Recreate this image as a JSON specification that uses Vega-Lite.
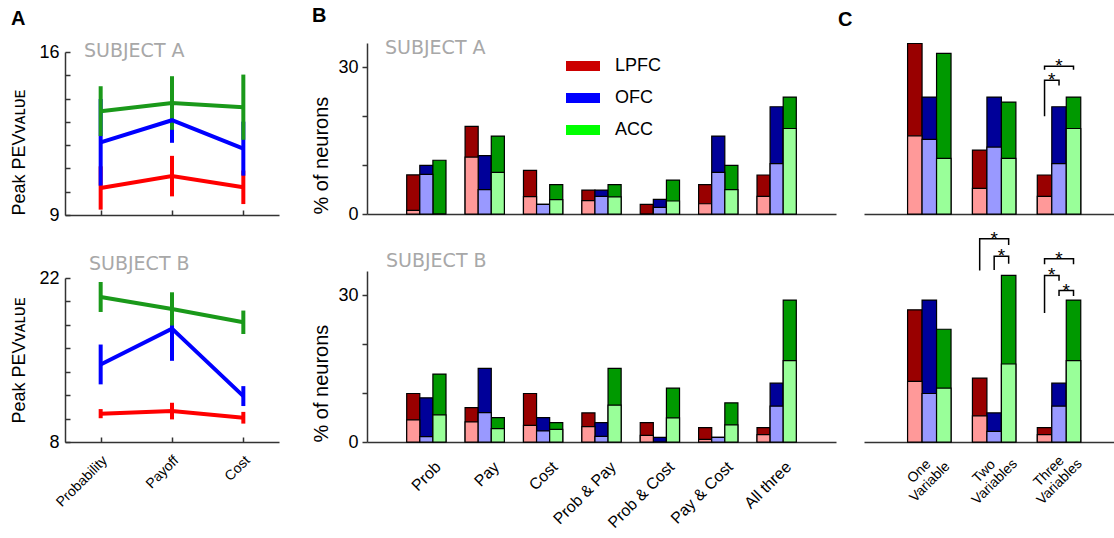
{
  "$schema": "https://vega.github.io/schema/vega-lite/v6.json",
  "padding": {"left": 10, "top": 6, "right": 0, "bottom": 0},
  "config": {
    "view": {"stroke": null},
    "font": "Liberation Sans",
    "axis": {"domainColor": "#333333", "domainWidth": 1.5, "tickColor": "#333333", "tickWidth": 1.5, "labelColor": "black", "titleColor": "black", "titleFontWeight": "normal", "grid": false, "labelFont": "Liberation Sans", "titleFont": "Liberation Sans, DejaVu Sans"},
    "title": {"font": "Liberation Sans"}
  },
  "datasets": {
    "pev": [
      {"subject": "A", "area": "LPFC", "variable": "Probability", "mean": 10.16, "lo": 9.23, "hi": 11.09},
      {"subject": "A", "area": "LPFC", "variable": "Payoff", "mean": 10.67, "lo": 9.8, "hi": 11.54},
      {"subject": "A", "area": "LPFC", "variable": "Cost", "mean": 10.19, "lo": 9.47, "hi": 10.91},
      {"subject": "A", "area": "OFC", "variable": "Probability", "mean": 12.12, "lo": 10.26, "hi": 13.98},
      {"subject": "A", "area": "OFC", "variable": "Payoff", "mean": 13.07, "lo": 12.1, "hi": 14.04},
      {"subject": "A", "area": "OFC", "variable": "Cost", "mean": 11.85, "lo": 10.69, "hi": 13.01},
      {"subject": "A", "area": "ACC", "variable": "Probability", "mean": 13.46, "lo": 12.39, "hi": 14.53},
      {"subject": "A", "area": "ACC", "variable": "Payoff", "mean": 13.81, "lo": 12.66, "hi": 14.96},
      {"subject": "A", "area": "ACC", "variable": "Cost", "mean": 13.63, "lo": 12.23, "hi": 15.03},
      {"subject": "B", "area": "LPFC", "variable": "Probability", "mean": 10.42, "lo": 10.03, "hi": 10.81},
      {"subject": "B", "area": "LPFC", "variable": "Payoff", "mean": 10.64, "lo": 9.93, "hi": 11.35},
      {"subject": "B", "area": "LPFC", "variable": "Cost", "mean": 10.07, "lo": 9.57, "hi": 10.57},
      {"subject": "B", "area": "OFC", "variable": "Probability", "mean": 14.62, "lo": 12.92, "hi": 16.32},
      {"subject": "B", "area": "OFC", "variable": "Payoff", "mean": 17.68, "lo": 14.93, "hi": 20.43},
      {"subject": "B", "area": "OFC", "variable": "Cost", "mean": 11.92, "lo": 11.07, "hi": 12.77},
      {"subject": "B", "area": "ACC", "variable": "Probability", "mean": 20.38, "lo": 19.1, "hi": 21.66},
      {"subject": "B", "area": "ACC", "variable": "Payoff", "mean": 19.36, "lo": 17.94, "hi": 20.78},
      {"subject": "B", "area": "ACC", "variable": "Cost", "mean": 18.22, "lo": 17.22, "hi": 19.22}
    ],
    "bars": [
      {"panel": "B", "subject": "A", "group": "Prob", "area": "LPFC", "light": 0.75, "total": 8.0},
      {"panel": "B", "subject": "A", "group": "Prob", "area": "OFC", "light": 8.1, "total": 9.95},
      {"panel": "B", "subject": "A", "group": "Prob", "area": "ACC", "light": 0, "total": 11.0},
      {"panel": "B", "subject": "A", "group": "Pay", "area": "LPFC", "light": 11.66, "total": 17.93},
      {"panel": "B", "subject": "A", "group": "Pay", "area": "OFC", "light": 4.98, "total": 11.93},
      {"panel": "B", "subject": "A", "group": "Pay", "area": "ACC", "light": 8.52, "total": 15.95},
      {"panel": "B", "subject": "A", "group": "Cost", "area": "LPFC", "light": 3.54, "total": 8.93},
      {"panel": "B", "subject": "A", "group": "Cost", "area": "OFC", "light": 1.98, "total": 1.98},
      {"panel": "B", "subject": "A", "group": "Cost", "area": "ACC", "light": 2.93, "total": 6.0},
      {"panel": "B", "subject": "A", "group": "Prob & Pay", "area": "LPFC", "light": 2.73, "total": 4.9},
      {"panel": "B", "subject": "A", "group": "Prob & Pay", "area": "OFC", "light": 3.6, "total": 4.9},
      {"panel": "B", "subject": "A", "group": "Prob & Pay", "area": "ACC", "light": 3.5, "total": 6.0},
      {"panel": "B", "subject": "A", "group": "Prob & Cost", "area": "LPFC", "light": 0, "total": 1.98},
      {"panel": "B", "subject": "A", "group": "Prob & Cost", "area": "OFC", "light": 1.36, "total": 3.0},
      {"panel": "B", "subject": "A", "group": "Prob & Cost", "area": "ACC", "light": 2.66, "total": 6.95},
      {"panel": "B", "subject": "A", "group": "Pay & Cost", "area": "LPFC", "light": 2.1, "total": 6.0},
      {"panel": "B", "subject": "A", "group": "Pay & Cost", "area": "OFC", "light": 8.52, "total": 15.95},
      {"panel": "B", "subject": "A", "group": "Pay & Cost", "area": "ACC", "light": 4.98, "total": 9.95},
      {"panel": "B", "subject": "A", "group": "All three", "area": "LPFC", "light": 3.6, "total": 7.98},
      {"panel": "B", "subject": "A", "group": "All three", "area": "OFC", "light": 10.3, "total": 21.95},
      {"panel": "B", "subject": "A", "group": "All three", "area": "ACC", "light": 17.5, "total": 23.93},
      {"panel": "B", "subject": "B", "group": "Prob", "area": "LPFC", "light": 4.52, "total": 9.93},
      {"panel": "B", "subject": "B", "group": "Prob", "area": "OFC", "light": 1.1, "total": 9.04},
      {"panel": "B", "subject": "B", "group": "Prob", "area": "ACC", "light": 5.55, "total": 13.9},
      {"panel": "B", "subject": "B", "group": "Pay", "area": "LPFC", "light": 4.1, "total": 7.05},
      {"panel": "B", "subject": "B", "group": "Pay", "area": "OFC", "light": 6.03, "total": 15.07},
      {"panel": "B", "subject": "B", "group": "Pay", "area": "ACC", "light": 2.74, "total": 5.0},
      {"panel": "B", "subject": "B", "group": "Cost", "area": "LPFC", "light": 3.42, "total": 9.93},
      {"panel": "B", "subject": "B", "group": "Cost", "area": "OFC", "light": 2.26, "total": 5.0},
      {"panel": "B", "subject": "B", "group": "Cost", "area": "ACC", "light": 2.6, "total": 3.97},
      {"panel": "B", "subject": "B", "group": "Prob & Pay", "area": "LPFC", "light": 3.15, "total": 5.96},
      {"panel": "B", "subject": "B", "group": "Prob & Pay", "area": "OFC", "light": 1.16, "total": 3.97},
      {"panel": "B", "subject": "B", "group": "Prob & Pay", "area": "ACC", "light": 7.53, "total": 15.07},
      {"panel": "B", "subject": "B", "group": "Prob & Cost", "area": "LPFC", "light": 1.37, "total": 3.97},
      {"panel": "B", "subject": "B", "group": "Prob & Cost", "area": "OFC", "light": 0, "total": 0.96},
      {"panel": "B", "subject": "B", "group": "Prob & Cost", "area": "ACC", "light": 4.93, "total": 11.03},
      {"panel": "B", "subject": "B", "group": "Pay & Cost", "area": "LPFC", "light": 0.55, "total": 2.95},
      {"panel": "B", "subject": "B", "group": "Pay & Cost", "area": "OFC", "light": 0.96, "total": 0.96},
      {"panel": "B", "subject": "B", "group": "Pay & Cost", "area": "ACC", "light": 3.49, "total": 8.01},
      {"panel": "B", "subject": "B", "group": "All three", "area": "LPFC", "light": 1.5, "total": 2.95},
      {"panel": "B", "subject": "B", "group": "All three", "area": "OFC", "light": 7.33, "total": 12.05},
      {"panel": "B", "subject": "B", "group": "All three", "area": "ACC", "light": 16.64, "total": 29.04},
      {"panel": "C", "subject": "A", "group": "One Variable", "area": "LPFC", "light": 16.0, "total": 34.9},
      {"panel": "C", "subject": "A", "group": "One Variable", "area": "OFC", "light": 15.27, "total": 23.93},
      {"panel": "C", "subject": "A", "group": "One Variable", "area": "ACC", "light": 11.38, "total": 32.86},
      {"panel": "C", "subject": "A", "group": "Two Variables", "area": "LPFC", "light": 5.25, "total": 13.09},
      {"panel": "C", "subject": "A", "group": "Two Variables", "area": "OFC", "light": 13.7, "total": 23.93},
      {"panel": "C", "subject": "A", "group": "Two Variables", "area": "ACC", "light": 11.38, "total": 22.9},
      {"panel": "C", "subject": "A", "group": "Three Variables", "area": "LPFC", "light": 3.6, "total": 7.98},
      {"panel": "C", "subject": "A", "group": "Three Variables", "area": "OFC", "light": 10.3, "total": 21.95},
      {"panel": "C", "subject": "A", "group": "Three Variables", "area": "ACC", "light": 17.5, "total": 23.93},
      {"panel": "C", "subject": "B", "group": "One Variable", "area": "LPFC", "light": 12.4, "total": 27.05},
      {"panel": "C", "subject": "B", "group": "One Variable", "area": "OFC", "light": 9.93, "total": 29.04},
      {"panel": "C", "subject": "B", "group": "One Variable", "area": "ACC", "light": 11.03, "total": 23.08},
      {"panel": "C", "subject": "B", "group": "Two Variables", "area": "LPFC", "light": 5.34, "total": 13.08},
      {"panel": "C", "subject": "B", "group": "Two Variables", "area": "OFC", "light": 2.19, "total": 5.96},
      {"panel": "C", "subject": "B", "group": "Two Variables", "area": "ACC", "light": 15.96, "total": 34.1},
      {"panel": "C", "subject": "B", "group": "Three Variables", "area": "LPFC", "light": 1.5, "total": 2.95},
      {"panel": "C", "subject": "B", "group": "Three Variables", "area": "OFC", "light": 7.33, "total": 12.05},
      {"panel": "C", "subject": "B", "group": "Three Variables", "area": "ACC", "light": 16.64, "total": 29.04}
    ],
    "brackets": [
      {"subject": "A", "bracket": "a1", "seq": 1, "group": "Three Variables", "area": "LPFC", "y": 29.5},
      {"subject": "A", "bracket": "a1", "seq": 2, "group": "Three Variables", "area": "LPFC", "y": 30.23},
      {"subject": "A", "bracket": "a1", "seq": 3, "group": "Three Variables", "area": "ACC", "y": 30.23},
      {"subject": "A", "bracket": "a1", "seq": 4, "group": "Three Variables", "area": "ACC", "y": 29.5},
      {"subject": "A", "bracket": "a2", "seq": 1, "group": "Three Variables", "area": "LPFC", "y": 20.0},
      {"subject": "A", "bracket": "a2", "seq": 2, "group": "Three Variables", "area": "LPFC", "y": 27.36},
      {"subject": "A", "bracket": "a2", "seq": 3, "group": "Three Variables", "area": "OFC", "y": 27.36},
      {"subject": "A", "bracket": "a2", "seq": 4, "group": "Three Variables", "area": "OFC", "y": 26.3},
      {"subject": "B", "bracket": "b1", "seq": 1, "group": "Two Variables", "area": "LPFC", "y": 35.1},
      {"subject": "B", "bracket": "b1", "seq": 2, "group": "Two Variables", "area": "LPFC", "y": 41.6},
      {"subject": "B", "bracket": "b1", "seq": 3, "group": "Two Variables", "area": "ACC", "y": 41.6},
      {"subject": "B", "bracket": "b1", "seq": 4, "group": "Two Variables", "area": "ACC", "y": 40.3},
      {"subject": "B", "bracket": "b2", "seq": 1, "group": "Two Variables", "area": "OFC", "y": 35.2},
      {"subject": "B", "bracket": "b2", "seq": 2, "group": "Two Variables", "area": "OFC", "y": 38.0},
      {"subject": "B", "bracket": "b2", "seq": 3, "group": "Two Variables", "area": "ACC", "y": 38.0},
      {"subject": "B", "bracket": "b2", "seq": 4, "group": "Two Variables", "area": "ACC", "y": 36.5},
      {"subject": "B", "bracket": "b3", "seq": 1, "group": "Three Variables", "area": "LPFC", "y": 36.4},
      {"subject": "B", "bracket": "b3", "seq": 2, "group": "Three Variables", "area": "LPFC", "y": 37.5},
      {"subject": "B", "bracket": "b3", "seq": 3, "group": "Three Variables", "area": "ACC", "y": 37.5},
      {"subject": "B", "bracket": "b3", "seq": 4, "group": "Three Variables", "area": "ACC", "y": 36.4},
      {"subject": "B", "bracket": "b4", "seq": 1, "group": "Three Variables", "area": "LPFC", "y": 26.4},
      {"subject": "B", "bracket": "b4", "seq": 2, "group": "Three Variables", "area": "LPFC", "y": 34.1},
      {"subject": "B", "bracket": "b4", "seq": 3, "group": "Three Variables", "area": "OFC", "y": 34.1},
      {"subject": "B", "bracket": "b4", "seq": 4, "group": "Three Variables", "area": "OFC", "y": 33.0},
      {"subject": "B", "bracket": "b5", "seq": 1, "group": "Three Variables", "area": "OFC", "y": 29.9},
      {"subject": "B", "bracket": "b5", "seq": 2, "group": "Three Variables", "area": "OFC", "y": 31.0},
      {"subject": "B", "bracket": "b5", "seq": 3, "group": "Three Variables", "area": "ACC", "y": 31.0},
      {"subject": "B", "bracket": "b5", "seq": 4, "group": "Three Variables", "area": "ACC", "y": 29.9}
    ],
    "stars": [
      {"subject": "A", "group": "Three Variables", "pos": "OFC", "y": 30.23},
      {"subject": "A", "group": "Three Variables", "pos": "L|O", "y": 27.36},
      {"subject": "B", "group": "Two Variables", "pos": "OFC", "y": 41.6},
      {"subject": "B", "group": "Two Variables", "pos": "O|A", "y": 38.0},
      {"subject": "B", "group": "Three Variables", "pos": "OFC", "y": 37.5},
      {"subject": "B", "group": "Three Variables", "pos": "L|O", "y": 34.1},
      {"subject": "B", "group": "Three Variables", "pos": "O|A", "y": 31.0}
    ]
  },
  "spacing": 32,
  "hconcat": [
    {
      "title": {"text": "A", "anchor": "start", "frame": "bounds", "offset": 13, "fontSize": 20, "fontWeight": "bold", "color": "black"},
      "bounds": "flush",
      "spacing": 8,
      "vconcat": [
        {"width": 214, "height": 1, "data": {"values": []}, "mark": "point"},
        {
          "bounds": "flush",
          "spacing": 63,
          "vconcat": [
            {
              "width": 214, "height": 163,
              "title": {"text": "SUBJECT A", "anchor": "start", "frame": "group", "offset": -33, "dx": 19, "baseline": "alphabetic", "color": "#a8a8a8", "fontSize": 19, "font": "DejaVu Sans", "fontWeight": "normal"},
              "data": {"name": "pev"},
              "transform": [{"filter": "datum.subject == 'A'"}],
              "encoding": {
                "x": {"field": "variable", "type": "nominal", "sort": ["Probability", "Payoff", "Cost"], "scale": {"type": "point", "domain": ["Probability", "Payoff", "Cost"], "padding": 0.5}, "axis": {"labels": false, "title": null, "tickSize": -5}},
                "color": {"field": "area", "type": "nominal", "scale": {"domain": ["LPFC", "OFC", "ACC"], "range": ["#ff0000", "#0000ff", "#1a991a"]}, "legend": null}
              },
              "layer": [
                {"mark": {"type": "rule", "strokeWidth": 4}, "encoding": {
                  "y": {"field": "lo", "type": "quantitative", "scale": {"domain": [9, 16], "nice": false, "zero": false}, "axis": {"values": [9, 10, 11, 12, 13, 14, 15, 16], "labelExpr": "datum.value == 9 || datum.value == 16 ? datum.label : ''", "tickSize": -5, "labelPadding": 11, "labelFontSize": 18, "title": "Peak PEVᴠᴀʟᴜᴇ", "titleFontSize": 18, "titleAnchor": "start", "titlePadding": 10}},
                  "y2": {"field": "hi"}}},
                {"mark": {"type": "line", "strokeWidth": 4}, "encoding": {
                  "y": {"field": "mean", "type": "quantitative", "scale": {"domain": [9, 16], "nice": false, "zero": false}, "axis": {"values": [9, 10, 11, 12, 13, 14, 15, 16], "labelExpr": "datum.value == 9 || datum.value == 16 ? datum.label : ''", "tickSize": -5, "labelPadding": 11, "labelFontSize": 18, "title": "Peak PEVᴠᴀʟᴜᴇ", "titleFontSize": 18, "titleAnchor": "start", "titlePadding": 10}}}}
              ]
            },
            {
              "width": 214, "height": 164,
              "title": {"text": "SUBJECT B", "anchor": "start", "frame": "group", "offset": -20, "dx": 24, "baseline": "alphabetic", "color": "#a8a8a8", "fontSize": 19, "font": "DejaVu Sans", "fontWeight": "normal"},
              "data": {"name": "pev"},
              "transform": [{"filter": "datum.subject == 'B'"}],
              "encoding": {
                "x": {"field": "variable", "type": "nominal", "sort": ["Probability", "Payoff", "Cost"], "scale": {"type": "point", "domain": ["Probability", "Payoff", "Cost"], "padding": 0.5}, "axis": {"title": null, "tickSize": -5, "labelAngle": 315, "labelAlign": "right", "labelBaseline": "middle", "labelOffset": 4, "labelPadding": 21, "labelFontSize": 14}},
                "color": {"field": "area", "type": "nominal", "scale": {"domain": ["LPFC", "OFC", "ACC"], "range": ["#ff0000", "#0000ff", "#1a991a"]}, "legend": null}
              },
              "layer": [
                {"mark": {"type": "rule", "strokeWidth": 4}, "encoding": {
                  "y": {"field": "lo", "type": "quantitative", "scale": {"domain": [8, 22], "nice": false, "zero": false}, "axis": {"values": [8, 10, 12, 14, 16, 18, 20, 22], "labelExpr": "datum.value == 8 || datum.value == 22 ? datum.label : ''", "tickSize": -5, "labelPadding": 11, "labelFontSize": 18, "title": "Peak PEVᴠᴀʟᴜᴇ", "titleFontSize": 18, "titlePadding": 10}},
                  "y2": {"field": "hi"}}},
                {"mark": {"type": "line", "strokeWidth": 4}, "encoding": {
                  "y": {"field": "mean", "type": "quantitative", "scale": {"domain": [8, 22], "nice": false, "zero": false}, "axis": {"values": [8, 10, 12, 14, 16, 18, 20, 22], "labelExpr": "datum.value == 8 || datum.value == 22 ? datum.label : ''", "tickSize": -5, "labelPadding": 11, "labelFontSize": 18, "title": "Peak PEVᴠᴀʟᴜᴇ", "titleFontSize": 18, "titlePadding": 10}}}}
              ]
            }
          ]
        }
      ]
    },
    {
      "spacing": 2,
      "hconcat": [
        {
          "title": {"text": "B", "anchor": "start", "frame": "bounds", "offset": 13, "fontSize": 20, "fontWeight": "bold", "color": "black"},
          "bounds": "flush",
          "spacing": 57,
          "vconcat": [
            {
              "width": 469, "height": 171,
              "title": {"text": "SUBJECT A", "anchor": "start", "frame": "group", "offset": -30, "dx": 18, "baseline": "alphabetic", "color": "#a8a8a8", "fontSize": 19, "font": "DejaVu Sans", "fontWeight": "normal"},
              "data": {"name": "bars"},
              "transform": [{"filter": "datum.panel == 'B' && datum.subject == 'A'"}],
              "encoding": {
                "x": {"field": "group", "type": "nominal", "sort": null, "scale": {"domain": ["Prob", "Pay", "Cost", "Prob & Pay", "Prob & Cost", "Pay & Cost", "All three"], "paddingInner": 0.327, "paddingOuter": 0.68, "align": 0.5}, "axis": {"labels": false, "ticks": false, "title": null}},
                "xOffset": {"field": "area", "type": "nominal", "scale": {"domain": ["LPFC", "OFC", "ACC"], "paddingInner": 0, "paddingOuter": 0}}
              },
              "layer": [
                {"mark": {"type": "bar", "opacity": 0}, "encoding": {
                  "y": {"field": "total", "type": "quantitative", "scale": {"domain": [0, 35], "nice": false}, "axis": {"values": [0, 10, 20, 30], "labelExpr": "datum.value == 0 || datum.value == 30 ? datum.label : ''", "tickSize": 5, "labelPadding": 4, "labelFontSize": 18, "title": "% of neurons", "titleFontSize": 20, "titleAnchor": "start", "titlePadding": 6}},
                  "fill": {"field": "area", "type": "nominal", "scale": {"domain": ["LPFC", "OFC", "ACC"], "range": ["#cc0000", "#0000ff", "#00ff00"]}, "legend": {"orient": "none", "legendX": 199, "legendY": 6, "title": null, "symbolType": "M-1,-0.3H1V0.3H-1Z", "symbolSize": 1156, "symbolStrokeWidth": 0, "symbolOpacity": 1, "labelFontSize": 18, "labelFont": "Liberation Sans", "labelOffset": 15, "rowPadding": 6, "padding": 0}}}},
                {"mark": {"type": "bar", "stroke": "black", "strokeWidth": 1.2}, "encoding": {
                  "y": {"field": "total", "type": "quantitative", "scale": {"domain": [0, 35], "nice": false}, "axis": {"values": [0, 10, 20, 30], "labelExpr": "datum.value == 0 || datum.value == 30 ? datum.label : ''", "tickSize": 5, "labelPadding": 4, "labelFontSize": 18, "title": "% of neurons", "titleFontSize": 20, "titleAnchor": "start", "titlePadding": 6}},
                  "fill": {"field": "area", "type": "nominal", "scale": {"domain": ["LPFC", "OFC", "ACC"], "range": ["#990000", "#000099", "#009900"]}, "legend": null}}},
                {"mark": {"type": "bar", "stroke": "black", "strokeWidth": 1.2}, "encoding": {
                  "y": {"field": "light", "type": "quantitative", "scale": {"domain": [0, 35], "nice": false}, "axis": {"values": [0, 10, 20, 30], "labelExpr": "datum.value == 0 || datum.value == 30 ? datum.label : ''", "tickSize": 5, "labelPadding": 4, "labelFontSize": 18, "title": "% of neurons", "titleFontSize": 20, "titleAnchor": "start", "titlePadding": 6}},
                  "fill": {"field": "area", "type": "nominal", "scale": {"domain": ["LPFC", "OFC", "ACC"], "range": ["#ff9999", "#9999ff", "#99ff99"]}, "legend": null}}}
              ],
              "resolve": {"scale": {"fill": "independent"}, "legend": {"fill": "independent"}}
            },
            {
              "width": 469, "height": 171,
              "title": {"text": "SUBJECT B", "anchor": "start", "frame": "group", "offset": -14.5, "dx": 19, "baseline": "alphabetic", "color": "#a8a8a8", "fontSize": 19, "font": "DejaVu Sans", "fontWeight": "normal"},
              "data": {"name": "bars"},
              "transform": [{"filter": "datum.panel == 'B' && datum.subject == 'B'"}],
              "encoding": {
                "x": {"field": "group", "type": "nominal", "sort": null, "scale": {"domain": ["Prob", "Pay", "Cost", "Prob & Pay", "Prob & Cost", "Pay & Cost", "All three"], "paddingInner": 0.327, "paddingOuter": 0.68, "align": 0.5}, "axis": {"ticks": false, "title": null, "labelAngle": 315, "labelAlign": "right", "labelBaseline": "middle", "labelOffset": 12, "labelPadding": 22, "labelFontSize": 16}},
                "xOffset": {"field": "area", "type": "nominal", "scale": {"domain": ["LPFC", "OFC", "ACC"], "paddingInner": 0, "paddingOuter": 0}}
              },
              "layer": [
                {"mark": {"type": "bar", "stroke": "black", "strokeWidth": 1.2}, "encoding": {
                  "y": {"field": "total", "type": "quantitative", "scale": {"domain": [0, 35], "nice": false}, "axis": {"values": [0, 10, 20, 30], "labelExpr": "datum.value == 0 || datum.value == 30 ? datum.label : ''", "tickSize": 5, "labelPadding": 4, "labelFontSize": 18, "title": "% of neurons", "titleFontSize": 20, "titleAnchor": "start", "titlePadding": 6}},
                  "fill": {"field": "area", "type": "nominal", "scale": {"domain": ["LPFC", "OFC", "ACC"], "range": ["#990000", "#000099", "#009900"]}, "legend": null}}},
                {"mark": {"type": "bar", "stroke": "black", "strokeWidth": 1.2}, "encoding": {
                  "y": {"field": "light", "type": "quantitative", "scale": {"domain": [0, 35], "nice": false}, "axis": {"values": [0, 10, 20, 30], "labelExpr": "datum.value == 0 || datum.value == 30 ? datum.label : ''", "tickSize": 5, "labelPadding": 4, "labelFontSize": 18, "title": "% of neurons", "titleFontSize": 20, "titleAnchor": "start", "titlePadding": 6}},
                  "fill": {"field": "area", "type": "nominal", "scale": {"domain": ["LPFC", "OFC", "ACC"], "range": ["#ff9999", "#9999ff", "#99ff99"]}, "legend": null}}}
              ],
              "resolve": {"scale": {"fill": "independent"}, "legend": {"fill": "independent"}}
            }
          ]
        },
        {
          "title": {"text": "C", "anchor": "start", "frame": "bounds", "offset": 13, "dx": -26, "fontSize": 20, "fontWeight": "bold", "color": "black"},
          "bounds": "flush",
          "spacing": 57,
          "vconcat": [
            {
              "width": 251, "height": 171,
              "data": {"name": "bars"},
              "transform": [{"filter": "datum.panel == 'C' && datum.subject == 'A'"}],
              "encoding": {
                "x": {"field": "group", "type": "nominal", "sort": null, "scale": {"domain": ["One Variable", "Two Variables", "Three Variables"], "paddingInner": 0.33, "paddingOuter": 0.6, "align": 0.56}, "axis": {"labels": false, "ticks": false, "title": null}},
                "xOffset": {"field": "area", "type": "nominal", "scale": {"domain": ["LPFC", "OFC", "ACC"], "paddingInner": 0, "paddingOuter": 0}}
              },
              "layer": [
                {"mark": {"type": "bar", "stroke": "black", "strokeWidth": 1.2}, "encoding": {
                  "y": {"field": "total", "type": "quantitative", "scale": {"domain": [0, 35], "nice": false}, "axis": null},
                  "fill": {"field": "area", "type": "nominal", "scale": {"domain": ["LPFC", "OFC", "ACC"], "range": ["#990000", "#000099", "#009900"]}, "legend": null}}},
                {"mark": {"type": "bar", "stroke": "black", "strokeWidth": 1.2}, "encoding": {
                  "y": {"field": "light", "type": "quantitative", "scale": {"domain": [0, 35], "nice": false}, "axis": null},
                  "fill": {"field": "area", "type": "nominal", "scale": {"domain": ["LPFC", "OFC", "ACC"], "range": ["#ff9999", "#9999ff", "#99ff99"]}, "legend": null}}},
                {"layer": [
                  {"data": {"name": "brackets"}, "transform": [{"filter": "datum.subject == 'A'"}],
                   "mark": {"type": "line", "color": "black", "strokeWidth": 1.5},
                   "encoding": {
                     "xOffset": {"field": "area", "type": "nominal", "scale": {"type": "point", "domain": ["LPFC", "L|O", "OFC", "O|A", "ACC"], "padding": 1}},
                     "y": {"field": "y", "type": "quantitative", "scale": {"domain": [0, 35], "nice": false}, "axis": null},
                     "detail": {"field": "bracket", "type": "nominal"},
                     "order": {"field": "seq", "type": "quantitative"}}},
                  {"data": {"name": "stars"}, "transform": [{"filter": "datum.subject == 'A'"}],
                   "mark": {"type": "text", "text": "*", "fontSize": 19, "baseline": "middle", "color": "black"},
                   "encoding": {
                     "xOffset": {"field": "pos", "type": "nominal", "scale": {"type": "point", "domain": ["LPFC", "L|O", "OFC", "O|A", "ACC"], "padding": 1}},
                     "y": {"field": "y", "type": "quantitative", "scale": {"domain": [0, 35], "nice": false}, "axis": null}}}
                ]}
              ],
              "resolve": {"scale": {"fill": "independent", "xOffset": "independent"}}
            },
            {
              "width": 251, "height": 171,
              "data": {"name": "bars"},
              "transform": [{"filter": "datum.panel == 'C' && datum.subject == 'B'"}],
              "encoding": {
                "x": {"field": "group", "type": "nominal", "sort": null, "scale": {"domain": ["One Variable", "Two Variables", "Three Variables"], "paddingInner": 0.33, "paddingOuter": 0.6, "align": 0.56}, "axis": {"ticks": false, "title": null, "labelExpr": "split(datum.label, ' ')", "labelAngle": 315, "labelAlign": "center", "labelBaseline": "middle", "labelOffset": -10, "labelPadding": 29, "labelLineHeight": 15, "labelFontSize": 14}},
                "xOffset": {"field": "area", "type": "nominal", "scale": {"domain": ["LPFC", "OFC", "ACC"], "paddingInner": 0, "paddingOuter": 0}}
              },
              "layer": [
                {"mark": {"type": "bar", "stroke": "black", "strokeWidth": 1.2}, "encoding": {
                  "y": {"field": "total", "type": "quantitative", "scale": {"domain": [0, 35], "nice": false}, "axis": null},
                  "fill": {"field": "area", "type": "nominal", "scale": {"domain": ["LPFC", "OFC", "ACC"], "range": ["#990000", "#000099", "#009900"]}, "legend": null}}},
                {"mark": {"type": "bar", "stroke": "black", "strokeWidth": 1.2}, "encoding": {
                  "y": {"field": "light", "type": "quantitative", "scale": {"domain": [0, 35], "nice": false}, "axis": null},
                  "fill": {"field": "area", "type": "nominal", "scale": {"domain": ["LPFC", "OFC", "ACC"], "range": ["#ff9999", "#9999ff", "#99ff99"]}, "legend": null}}},
                {"layer": [
                  {"data": {"name": "brackets"}, "transform": [{"filter": "datum.subject == 'B'"}],
                   "mark": {"type": "line", "color": "black", "strokeWidth": 1.5},
                   "encoding": {
                     "xOffset": {"field": "area", "type": "nominal", "scale": {"type": "point", "domain": ["LPFC", "L|O", "OFC", "O|A", "ACC"], "padding": 1}},
                     "y": {"field": "y", "type": "quantitative", "scale": {"domain": [0, 35], "nice": false}, "axis": null},
                     "detail": {"field": "bracket", "type": "nominal"},
                     "order": {"field": "seq", "type": "quantitative"}}},
                  {"data": {"name": "stars"}, "transform": [{"filter": "datum.subject == 'B'"}],
                   "mark": {"type": "text", "text": "*", "fontSize": 19, "baseline": "middle", "color": "black"},
                   "encoding": {
                     "xOffset": {"field": "pos", "type": "nominal", "scale": {"type": "point", "domain": ["LPFC", "L|O", "OFC", "O|A", "ACC"], "padding": 1}},
                     "y": {"field": "y", "type": "quantitative", "scale": {"domain": [0, 35], "nice": false}, "axis": null}}}
                ]}
              ],
              "resolve": {"scale": {"fill": "independent", "xOffset": "independent"}}
            }
          ]
        }
      ]
    }
  ]
}
